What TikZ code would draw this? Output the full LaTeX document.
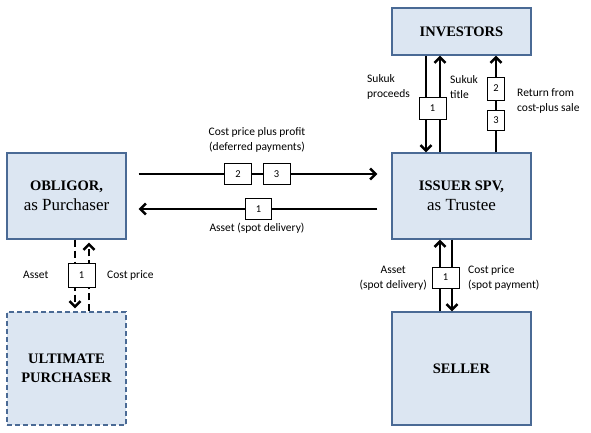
\documentclass[tikz,border=0pt]{standalone}
\usepackage{fontspec}
\setmainfont{Liberation Serif}
\newfontfamily\labfont{Carlito}
\usetikzlibrary{arrows.meta}
\definecolor{boxfill}{HTML}{DCE6F2}
\definecolor{boxline}{HTML}{4A6A95}
\newcommand\entname[1]{{\fontsize{14.5}{19}\selectfont\bfseries #1}}
\begin{document}
\begin{tikzpicture}[x=1pt,y=-1pt,
  ent/.style={draw=boxline, fill=boxfill, line width=1.4pt, inner sep=0pt, align=center, font=\fontsize{17}{19.5}\selectfont},
  num/.style={draw=black, fill=white, line width=0.8pt, inner sep=0pt, font=\labfont\fontsize{10.5}{12}\selectfont},
  lab/.style={font=\labfont\fontsize{11.5}{14.5}\selectfont, inner sep=0pt},
  flow/.style={line width=2.5pt, -{Straight Barb[length=5.5pt,width=11pt]}},
  dflow/.style={flow, dash pattern=on 7pt off 4pt},
]
\fill[white] (0,0) rectangle (591,432);
\useasboundingbox (0,0) rectangle (591,432);

% entities
\node[ent, minimum width=139pt, minimum height=47pt] (inv) at (461.5,31.5) {\entname{INVESTORS}};
\node[ent, minimum width=139pt, minimum height=86pt] (spv) at (461.5,196) {\entname{ISSUER SPV,}\\as Trustee};
\node[ent, minimum width=119pt, minimum height=86pt] (obl) at (66.5,196) {\entname{OBLIGOR,}\\as Purchaser};
\node[ent, minimum width=119pt, minimum height=113pt, dashed, dash pattern=on 5pt off 3pt] (ult) at (66.5,368.5) {\entname{ULTIMATE}\\\entname{PURCHASER}};
\node[ent, minimum width=139pt, minimum height=113pt] (sel) at (461.5,368.5) {\entname{SELLER}};

% investors <-> spv
\draw[flow] ([xshift=-35.5pt]inv.south) -- ([xshift=-35.5pt]spv.north);
\draw[flow] ([xshift=-21.5pt]spv.north) -- ([xshift=-21.5pt]inv.south);
\draw[flow] ([xshift=34.5pt]spv.north) -- ([xshift=34.5pt]inv.south);
\node[num, minimum width=27pt, minimum height=22pt] (n1a) at (432.5,108) {1};
\node[num, minimum width=17pt, minimum height=23pt] (n2a) at (496,88.5) {2};
\node[num, minimum width=17pt, minimum height=20pt] (n3a) at (496,120) {3};
\node[lab, align=left, anchor=west] (l1) at (367,87) {Sukuk\\proceeds};
\node[lab, align=left, anchor=west] (l2) at (450,87) {Sukuk\\title};
\node[lab, align=left, anchor=west] (l3) at (517,101) {Return from\\cost-plus sale};

% obligor <-> spv
\draw[flow, shorten <=12pt, shorten >=14pt] ([yshift=22pt]obl.east) -- ([yshift=22pt]spv.west);
\draw[flow, shorten <=14pt, shorten >=12pt] ([yshift=-13pt]spv.west) -- ([yshift=-13pt]obl.east);
\node[num, minimum width=27pt, minimum height=21pt] (n2b) at (238,174) {2};
\node[num, minimum width=27pt, minimum height=21pt] (n3b) at (276.5,174) {3};
\node[num, minimum width=26pt, minimum height=21pt] (n1b) at (258.5,209) {1};
\node[lab, align=center] (l4) at (257,140) {Cost price plus profit\\(deferred payments)};
\node[lab] (l5) at (257,228) {Asset (spot delivery)};

% obligor <-> ultimate purchaser
\draw[dflow, shorten >=3pt] ([xshift=8.5pt]obl.south) -- ([xshift=8.5pt]ult.north);
\draw[dflow, shorten >=3pt] ([xshift=22.5pt]ult.north) -- ([xshift=22.5pt]obl.south);
\node[num, minimum width=27pt, minimum height=24pt] (n1c) at (81.5,275) {1};
\node[lab, anchor=west] (l6) at (23,275) {Asset};
\node[lab, anchor=west] (l7) at (107,275) {Cost price};

% spv <-> seller
\draw[flow] ([xshift=-21.5pt]sel.north) -- ([xshift=-21.5pt]spv.south);
\draw[flow] ([xshift=-9.5pt]spv.south) -- ([xshift=-9.5pt]sel.north);
\node[num, minimum width=27pt, minimum height=21pt] (n1d) at (445.5,277.5) {1};
\node[lab, align=center, anchor=east] (l8) at (427,278) {Asset\\(spot delivery)};
\node[lab, align=left, anchor=west] (l9) at (468,278) {Cost price\\(spot payment)};
\end{tikzpicture}
\end{document}
